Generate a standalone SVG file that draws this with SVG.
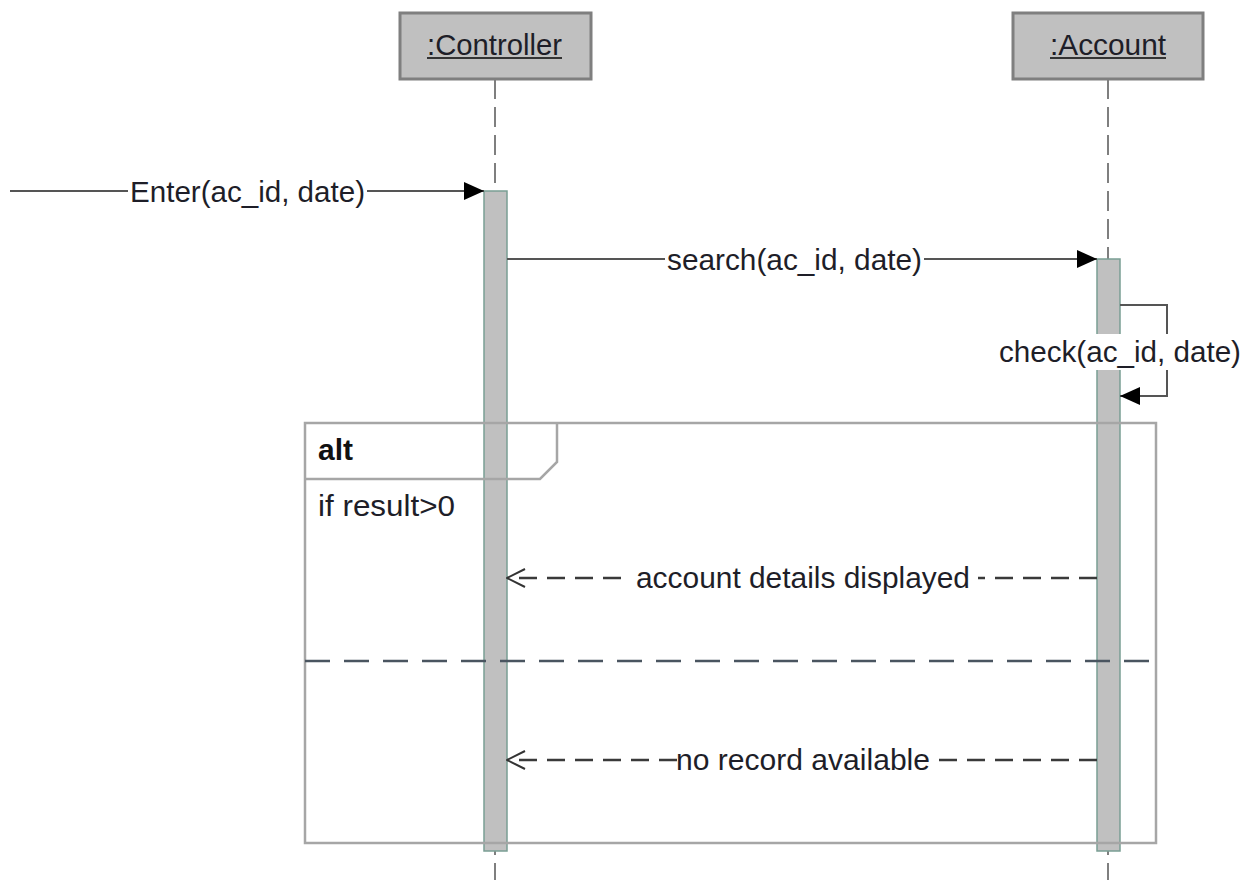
<svg xmlns="http://www.w3.org/2000/svg" width="1252" height="880" viewBox="0 0 1252 880">
  <defs>
    <style>
      .lbl { font-family: "Liberation Sans", Arial, sans-serif; font-size: 29px; fill: #1e1e28; }
      .bold { font-weight: bold; fill: #111; }
      .head { fill: #c0c0c0; stroke: #7f7f7f; stroke-width: 3; }
      .lifeline { stroke: #555; stroke-width: 1.5; stroke-dasharray: 20 8; fill: none; }
      .bar { fill: #c0c0c0; stroke: #7a9e94; stroke-width: 1.5; }
      .call { stroke: #555; stroke-width: 2; fill: none; }
      .reply { stroke: #3a3a3a; stroke-width: 2.6; stroke-dasharray: 18 10; fill: none; }
      .frame { stroke: #a6a6a6; stroke-width: 2.5; fill: none; }
      .sep { stroke: #4a5560; stroke-width: 2.5; stroke-dasharray: 25 14; fill: none; }
      .bg { fill: #fff; }
    </style>
    <marker id="filled" viewBox="0 0 20 20" refX="20" refY="10" markerWidth="20" markerHeight="20" markerUnits="userSpaceOnUse" orient="auto">
      <path d="M0,1 L20,10 L0,19 Z" fill="#000"/>
    </marker>
    <marker id="open" viewBox="0 0 20 20" refX="19" refY="10" markerWidth="20" markerHeight="20" markerUnits="userSpaceOnUse" orient="auto">
      <path d="M1,1 L19,10 L1,19" fill="none" stroke="#333" stroke-width="2"/>
    </marker>
  </defs>

  <rect width="1252" height="880" fill="#fff"/>

  <!-- lifelines -->
  <g id="lifelines">
    <line class="lifeline" x1="495" y1="79" x2="495" y2="880"/>
    <line class="lifeline" x1="1108" y1="79" x2="1108" y2="880"/>
  </g>

  <!-- participant heads -->
  <g id="controller">
    <rect class="head" x="400" y="13" width="191" height="66"/>
    <text class="lbl" x="427" y="55" textLength="135" lengthAdjust="spacingAndGlyphs">:Controller</text>
    <line x1="427" y1="58" x2="562" y2="58" stroke="#333" stroke-width="2"/>
  </g>
  <g id="account">
    <rect class="head" x="1013" y="13" width="190" height="66"/>
    <text class="lbl" x="1050" y="55" textLength="116" lengthAdjust="spacingAndGlyphs">:Account</text>
    <line x1="1050" y1="58" x2="1166" y2="58" stroke="#333" stroke-width="2"/>
  </g>

  <!-- activation bars -->
  <g id="activations">
    <rect class="bar" x="484" y="191" width="23" height="660"/>
    <rect class="bar" x="1097" y="259" width="23" height="592"/>
  </g>

  <!-- combined fragment -->
  <g id="alt-fragment">
    <rect class="frame" x="305" y="423" width="851" height="420"/>
    <path class="frame" d="M305,479 L540,479 L557,462 L557,423"/>
    <text class="lbl bold" x="318" y="460" textLength="35" lengthAdjust="spacingAndGlyphs">alt</text>
    <text class="lbl" x="318" y="516" textLength="137" lengthAdjust="spacingAndGlyphs">if result&gt;0</text>
    <line class="sep" x1="305" y1="661" x2="1156" y2="661"/>
  </g>

  <!-- messages -->
  <g id="connectors">
    <line class="call" x1="10" y1="191" x2="484" y2="191" marker-end="url(#filled)"/>
    <rect class="bg" x="128" y="177" width="239" height="32"/>
    <text class="lbl" x="130" y="202" textLength="235" lengthAdjust="spacingAndGlyphs">Enter(ac_id, date)</text>

    <line class="call" x1="507" y1="259" x2="1097" y2="259" marker-end="url(#filled)"/>
    <rect class="bg" x="665" y="245" width="259" height="32"/>
    <text class="lbl" x="667" y="270" textLength="255" lengthAdjust="spacingAndGlyphs">search(ac_id, date)</text>

    <path class="call" d="M1120,305 L1167,305 L1167,396 L1120,396" marker-end="url(#filled)"/>
    <rect class="bg" x="997" y="334" width="246" height="36"/>
    <text class="lbl" x="999" y="362" textLength="242" lengthAdjust="spacingAndGlyphs">check(ac_id, date)</text>

    <line class="reply" x1="1097" y1="578" x2="507" y2="578" marker-end="url(#open)"/>
    <rect class="bg" x="628" y="564" width="350" height="30"/>
    <text class="lbl" x="636" y="588" textLength="334" lengthAdjust="spacingAndGlyphs">account details displayed</text>

    <line class="reply" x1="1097" y1="760" x2="507" y2="760" marker-end="url(#open)"/>
    <rect class="bg" x="677" y="746" width="252" height="30"/>
    <text class="lbl" x="676" y="770" textLength="254" lengthAdjust="spacingAndGlyphs">no record available</text>
  </g>
</svg>
